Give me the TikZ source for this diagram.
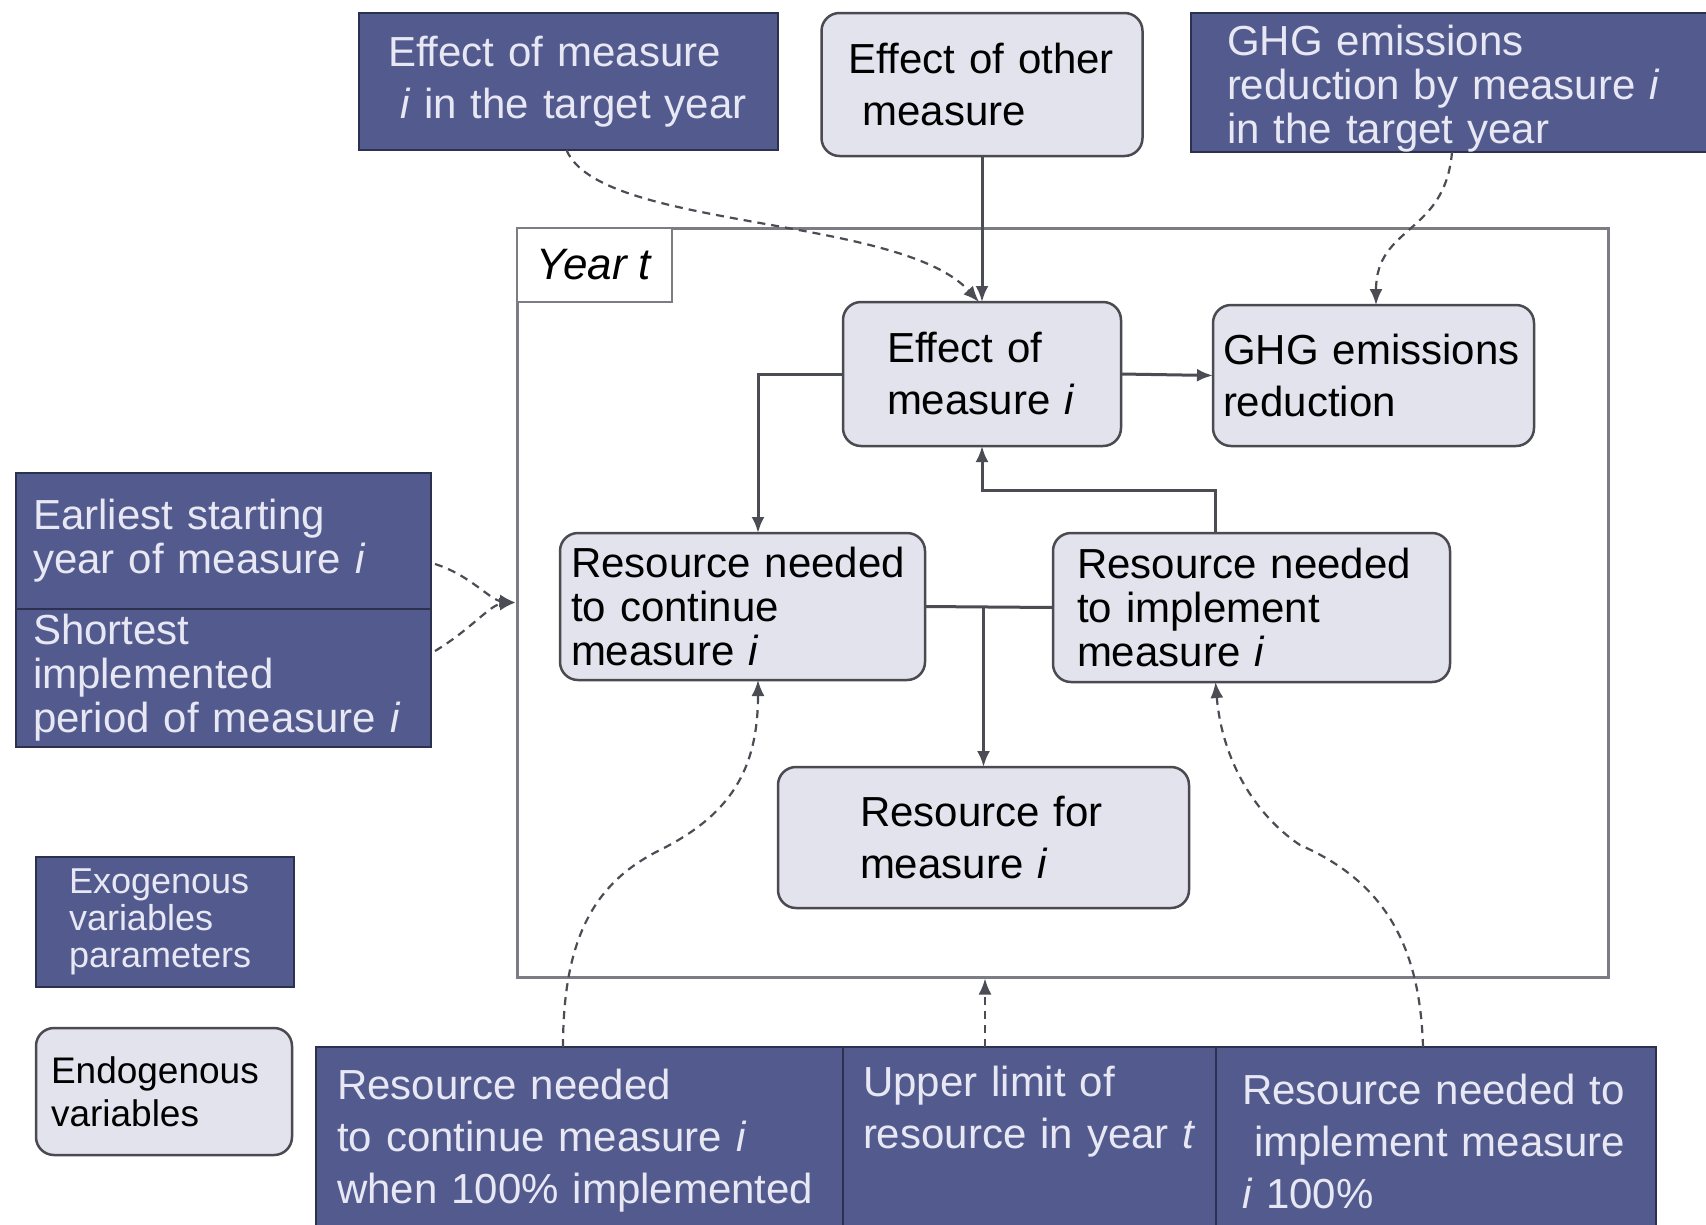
\documentclass[tikz,border=0pt]{standalone}
\usepackage{fontspec}
\setmainfont{Liberation Sans}
\usetikzlibrary{arrows.meta,calc}
\definecolor{exofill}{HTML}{535B8E}
\definecolor{exoline}{HTML}{2C3150}
\definecolor{exotext}{HTML}{E8E8F4}
\definecolor{endofill}{HTML}{E3E3EE}
\definecolor{endoline}{HTML}{4A4A50}
\definecolor{framecol}{HTML}{7C7C84}
\definecolor{conncol}{HTML}{4C4C55}
\newcommand\fbig{\fontsize{42}{52}\selectfont}
\newcommand\ftight{\fontsize{42}{44}\selectfont}
\newcommand\flegA{\fontsize{36}{37}\selectfont}
\newcommand\flegB{\fontsize{37}{43}\selectfont}
\begin{document}
\begin{tikzpicture}[x=1pt,y=-1pt,
  box/.style n args={4}{minimum width=#1pt, minimum height=#2pt, text width=#3pt, inner xsep=#4pt, inner ysep=0pt, outer sep=0pt, align=left},
  exo/.style={rectangle, draw=exoline, line width=2pt, fill=exofill, text=exotext},
  endo/.style={rectangle, rounded corners=18pt, draw=endoline, line width=2.5pt, fill=endofill, text=black},
  solidconn/.style={draw=conncol, line width=3pt, -{Latex[length=16pt,width=13pt]}},
  plainconn/.style={draw=conncol, line width=3pt},
  dashconn/.style={draw=conncol, line width=2.2pt, dash pattern=on 8pt off 6pt, -{Latex[length=16pt,width=13pt]}}
]
\useasboundingbox (0,0) rectangle (1706,1224);
\fill[white] (0,0) rectangle (1706,1224);

% Year t frame
\node[draw=framecol, line width=3pt, minimum width=1091pt, minimum height=749pt, inner sep=0pt] (frame) at (1062.5,602.5) {};
\node[draw=framecol, line width=2.5pt, fill=white, minimum width=155pt, minimum height=74pt, inner sep=0pt, font=\fontsize{44}{50}\selectfont] (yearlbl) at (594.5,265) {\textit{Year t}};

% top row
\node[exo, box={419}{137}{361}{29}, font=\fbig] (ex1) at (568.5,81.5) {Effect of measure\\\hspace*{12pt}\textit{i} in the target year};
\node[endo, box={321}{143}{267}{27}, font=\fbig] (en1) at (982,84.5) {Effect of other\\\hspace*{14pt}measure};
\node[exo, box={520}{139}{448}{36}, font=\ftight] (ex2) at (1451,82.5) {\rule{0pt}{42pt}GHG emissions\\reduction by measure \textit{i}\\in the target year};

% inner nodes
\node[endo, box={278}{144}{190}{44}, font=\fbig] (eff) at (982,374) {Effect of\\measure \textit{i}};
\node[endo, box={321}{141}{301}{10}, font=\fbig] (ghg) at (1373.5,375.5) {GHG emissions\\reduction};
\node[endo, box={365}{147}{343}{11}, font=\ftight] (rcont) at (742.5,606.5) {Resource needed\\to continue\\measure \textit{i}};
\node[endo, box={397}{149}{349}{24}, font=\ftight] (rimpl) at (1251.5,607.5) {Resource needed\\to implement\\measure \textit{i}};
\node[endo, box={411}{141}{247}{82}, font=\fbig] (rfor) at (983.5,837.5) {Resource for\\measure \textit{i}};

% left exogenous
\node[exo, box={415}{136}{381}{17}, font=\ftight] (earl) at (223.5,541) {Earliest starting\\year of measure \textit{i}};
\node[exo, box={415}{138}{381}{17}, font=\ftight] (short) at (223.5,678) {Shortest\\implemented\\period of measure \textit{i}};

% legend
\node[exo, box={258}{130}{192}{33}, font=\flegA] (exoleg) at (165,922) {Exogenous\\variables\\parameters};
\node[endo, box={256}{127}{226}{15}, font=\flegB] (endoleg) at (164,1091.5) {Endogenous\\variables};

% bottom row
\node[exo, box={527}{188}{485}{21}, font=\fbig] (b1) at (579.5,1141) {Resource needed\\to continue measure \textit{i}\\when 100\% implemented};
\node[exo, box={373}{188}{345}{14}, font=\fbig] (b2) at (1029.5,1141) {\hspace*{6pt}Upper limit of\\\hspace*{6pt}resource in year \textit{t}\\\strut};
\node[exo, box={440}{188}{388}{26}, font=\fbig] (b3) at (1436,1141) {Resource needed to\\\hspace*{12pt}implement measure\\\textit{i} 100\%};

% solid connectors
\draw[solidconn] (en1.south) -- (eff.north);
\draw[solidconn] (eff.east) -- (ghg.west);
\draw[solidconn] (eff.west) -| ([xshift=15.5pt]rcont.north);
\coordinate (j1) at (982,490);
\draw[solidconn] ([xshift=-36pt]rimpl.north) |- (j1) -- (eff.south);
\coordinate (j2) at (983.5,606.5);
\draw[plainconn] (rcont.east) -- (rimpl.west);
\draw[solidconn] (j2) -- (rfor.north);

% dashed connectors
\draw[dashconn] ([xshift=-2pt]ex1.south) .. controls (600,230) and (900,215) .. ([xshift=-3pt]eff.north);
\draw[dashconn] ([xshift=1pt]ex2.south) .. controls (1445,235) and (1376,225) .. ([xshift=2.5pt]ghg.north);
\draw[dashconn] ($(earl.east)+(4,23)$) .. controls (470,575) and (490,600) .. (frame.west);
\draw[dashconn] ($(short.east)+(4,-27)$) .. controls (470,630) and (490,605) .. (frame.west);
\draw[dashconn] ([xshift=-16.5pt]b1.north) .. controls (563,930) and (600,880) .. (660,850) .. controls (730,815) and (758,770) .. ([xshift=15.5pt]rcont.south);
\draw[dashconn] ([xshift=-13pt]b3.north) .. controls (1420,940) and (1380,880) .. (1300,845) .. controls (1255,815) and (1222,760) .. ([xshift=-36pt]rimpl.south);
\coordinate (b2top) at ([xshift=-44.5pt]b2.north);
\draw[dashconn] (b2top) -- (b2top |- frame.south);
\end{tikzpicture}
\end{document}
